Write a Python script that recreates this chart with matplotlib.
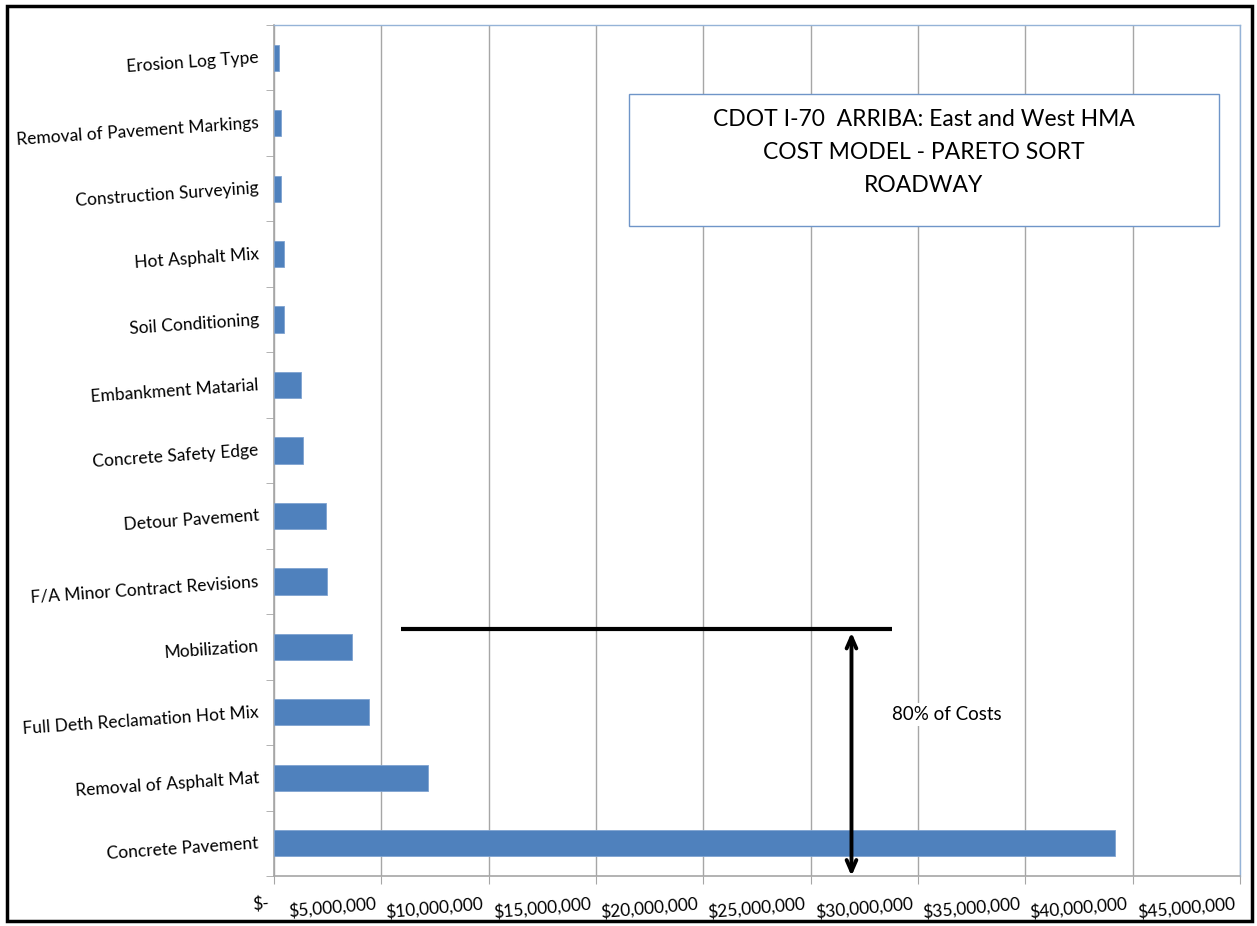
import matplotlib
matplotlib.use("Agg")
import matplotlib.pyplot as plt
import matplotlib.transforms as mtransforms
from matplotlib.patches import Rectangle
from matplotlib.ticker import FuncFormatter, MultipleLocator

plt.rcParams['font.family'] = ['Lato', 'DejaVu Sans']

# данные снизу вверх (как в barh)
items = [
    "Concrete Pavement",
    "Removal of Asphalt Mat",
    "Full Deth Reclamation Hot Mix",
    "Mobilization",
    "F/A Minor Contract Revisions",
    "Detour Pavement",
    "Concrete Safety Edge",
    "Embankment Matarial",
    "Soil Conditioning",
    "Hot Asphalt Mix",
    "Construction Surveyinig",
    "Removal of Pavement Markings",
    "Erosion Log Type",
]
costs = [39.17e6, 7.17e6, 4.42e6, 3.63e6, 2.45e6, 2.41e6, 1.34e6,
         1.24e6, 0.45e6, 0.45e6, 0.34e6, 0.34e6, 0.22e6]

title_lines = ["CDOT I-70  ARRIBA: East and West HMA",
               "COST MODEL - PARETO SORT",
               "ROADWAY"]

# линия и стрелка "80% of Costs"
cut_y = 3.27
cut_x = (5.9e6, 28.8e6)
arrow_x = 26.9e6
note_text = "80% of Costs"

fig = plt.figure(figsize=(12.57, 9.26), dpi=100)
ax = fig.add_axes([0.218, 0.054, 0.7685, 0.919])

ypos = list(range(len(items)))
ax.barh(ypos, costs, height=0.4, color='#4F81BD', edgecolor='#7FA3D1', linewidth=0.6, zorder=3)

ax.set_xlim(0, 45e6)
ax.set_ylim(-0.5, len(items) - 0.5)
ax.xaxis.set_major_locator(MultipleLocator(5e6))
ax.xaxis.set_major_formatter(FuncFormatter(lambda v, p: "$-" if v == 0 else f"${v:,.0f}"))
ax.grid(axis='x', color='#A6A6A6', linewidth=1.0, zorder=0)

ax.set_yticks(ypos)
ax.set_yticklabels(items)
ax.set_yticks([i - 0.5 for i in range(len(items) + 1)], minor=True)
ax.tick_params(axis='y', which='major', length=0, pad=11, labelsize=12.5)
ax.tick_params(axis='y', which='minor', length=6, color='#A6A6A6')
ax.tick_params(axis='x', which='major', length=6, color='#A6A6A6', pad=8, labelsize=12.5)
for lbl in ax.get_yticklabels():
    lbl.set_rotation(4)
    lbl.set_rotation_mode('anchor')
    lbl.set_ha('right')
    lbl.set_va('center')
shift = mtransforms.ScaledTranslation(-0.06, 0, fig.dpi_scale_trans)
for lbl in ax.get_xticklabels():
    lbl.set_rotation(5)
    lbl.set_rotation_mode('anchor')
    lbl.set_ha('right')
    lbl.set_va('top')
    lbl.set_transform(lbl.get_transform() + shift)

for side in ['left', 'bottom']:
    ax.spines[side].set_color('#A6A6A6')
    ax.spines[side].set_linewidth(1.2)
for side in ['top', 'right']:
    ax.spines[side].set_color('#95B3D7')
    ax.spines[side].set_linewidth(1.0)

# заголовок в рамке
ax.add_patch(Rectangle((0.367, 0.764), 0.611, 0.155, transform=ax.transAxes,
                       facecolor='white', edgecolor='#6F95C8', linewidth=1.0, zorder=5))
for i, line in enumerate(title_lines):
    ax.text(0.6725, 0.889 - i * 0.039, line, transform=ax.transAxes, ha='center', va='center',
            fontsize=16.5, zorder=6)

# линия отсечки и стрелка
ax.plot(cut_x, [cut_y, cut_y], color='black', linewidth=3, zorder=6, solid_capstyle='butt')
ax.annotate('', xy=(arrow_x, -0.5), xytext=(arrow_x, cut_y - 0.05),
            arrowprops=dict(arrowstyle='<->,head_length=0.8,head_width=0.35', color='black',
                            linewidth=2.8, shrinkA=0, shrinkB=0), zorder=6)
ax.text(31.35e6, 1.97, note_text, ha='center', va='center', fontsize=13.5, zorder=6,
        bbox=dict(facecolor='white', edgecolor='none', pad=2))

# рамка всей диаграммы
fig.add_artist(Rectangle((0.0056, 0.0054), 0.9905, 0.988, transform=fig.transFigure,
                         fill=False, edgecolor='black', linewidth=2.5))

fig.savefig("out.png", dpi=100)
